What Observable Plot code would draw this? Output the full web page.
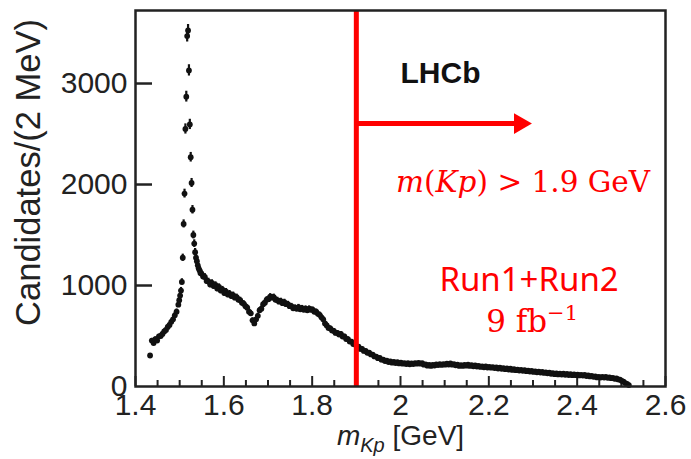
<!DOCTYPE html>
<html><head><meta charset="utf-8">
<script src="https://cdn.jsdelivr.net/npm/d3@7"></script>
<script src="https://cdn.jsdelivr.net/npm/@observablehq/plot@0.6"></script>
<style>body{margin:0;background:#fff}</style>
</head><body><div id="chart"></div>
<script>
// Low-mass side and Λ(1520) peak: bin centres (GeV) and candidates per 2 MeV
const lowMass = [1.433,1.437,1.441,1.445,1.449,1.453,1.457,1.461,1.465,1.469,1.473,1.477,1.481,1.485,1.489,1.493,1.497];
const lowCounts = [307,455,430,470,455,495,500,520,545,560,590,610,640,665,705,740,810];
const peakMass = [1.499,1.501,1.503,1.505,1.507,1.509,1.511,1.513,1.515,1.517,1.519,1.521,1.523,1.525,1.527,1.529,1.531,1.533,1.535,1.537,1.539,1.541,1.543,1.545,1.547];
const peakCounts = [855,900,950,1035,1275,1610,1910,2550,2870,3470,3525,3130,2595,2270,2015,1750,1500,1415,1330,1275,1240,1200,1170,1150,1125];
// Continuum: bins every 4 MeV starting at 1.549 GeV
const contStart = 1.549, contStep = 0.004;
const contCounts = [1120,1090,1085,1045,1040,1010,1025,995,1005,970,985,950,960,925,940,910,920,895,905,880,885,860,855,830,820,795,780,740,725,655,625,665,700,755,770,815,830,860,865,890,880,885,860,855,840,845,825,835,815,815,795,795,775,780,770,785,765,775,760,770,755,770,760,760,740,740,720,710,685,665,625,605,580,575,555,550,530,530,515,520,495,495,470,470,445,445,420,415,395,395,372,372,352,352,334,335,318,316,298,296,280,282,266,266,252,256,242,248,236,244,232,240,228,236,226,232,222,230,220,228,222,232,226,234,226,230,216,220,206,214,204,214,208,220,212,222,214,222,216,226,218,228,216,222,210,216,204,212,204,214,206,216,204,212,200,208,198,204,194,200,190,198,188,194,186,192,182,188,178,186,176,182,172,180,168,176,164,172,162,168,158,164,155,162,152,158,148,154,144,150,140,148,138,144,134,140,130,136,126,132,122,130,120,128,118,126,116,124,114,122,112,120,112,118,110,116,108,114,104,110,100,106,96,100,90,96,88,96,88,94,86,90,82,86,76,80,70,68,56,48,34,26,14];

const xTickLabels = [1.4,1.6,1.8,2,2.2,2.4,2.6];
const xMinorTicks = [1.45,1.5,1.55,1.65,1.7,1.75,1.85,1.9,1.95,2.05,2.1,2.15,2.25,2.3,2.35,2.45,2.5,2.55];
const yTickLabels = [0,1000,2000,3000];
const cutValue = 1.9;

const data = [];
lowMass.forEach((m,i)=>data.push({m, n: lowCounts[i]}));
peakMass.forEach((m,i)=>data.push({m, n: peakCounts[i]}));
contCounts.forEach((n,i)=>data.push({m: contStart + i*contStep, n}));

const red = "#ff0000";
const chart = Plot.plot({
  width: 691, height: 459,
  marginLeft: 135, marginRight: 26, marginTop: 10, marginBottom: 73,
  style: {fontFamily: "'Liberation Sans', Arial, sans-serif", background: "white", color: "#222"},
  x: {domain: [1.4, 2.6]},
  y: {domain: [0, 3723]},
  marks: [
    Plot.tickX(xMinorTicks, {x: d=>d, insetTop: 370, stroke: "#222", strokeWidth: 2}),
    Plot.tickX(xTickLabels, {x: d=>d, insetTop: 366, stroke: "#222", strokeWidth: 2}),
    Plot.tickY(yTickLabels.slice(1), {y: d=>d, insetRight: 513, stroke: "#222", strokeWidth: 2.5}),
    Plot.axisX({ticks: xTickLabels, tickSize: 0, tickPadding: 7, fontSize: 30, tickFormat: d=>String(d), label: null}),
    Plot.axisY({ticks: yTickLabels, tickSize: 0, tickPadding: 8, fontSize: 30, tickFormat: d=>String(d), label: null}),
    Plot.text(["Candidates/(2 MeV)"], {frameAnchor: "left", textAnchor: "middle", rotate: -90, dx: -107, dy: -26, fontSize: 34.5, fill: "#222"}),
    Plot.text(["mKp [GeV]"], {frameAnchor: "bottom", dy: 58, fontSize: 28, fill: "#222"}),
    Plot.ruleX(data, {x: "m", y1: d=>d.n - Math.sqrt(d.n), y2: d=>d.n + Math.sqrt(d.n), stroke: "#111", strokeWidth: 2.2}),
    Plot.dot(data, {x: "m", y: "n", r: 2.9, fill: "#111"}),
    Plot.ruleX([cutValue], {stroke: red, strokeWidth: 5}),
    Plot.link([{x1: cutValue, x2: 2.275, y: 2604}], {x1: "x1", x2: "x2", y1: "y", y2: "y", stroke: red, strokeWidth: 5}),
    Plot.dot([{x: 2.2705, y: 2604}], {x: "x", y: "y", symbol: "triangle", r: 7.7, rotate: 90, fill: red, stroke: null}),
    Plot.text(["LHCb"], {x: [2.0], y: [3100], textAnchor: "start", fontSize: 30, fontWeight: "bold", fill: "#111"}),
    Plot.text(["m(Kp) > 1.9 GeV"], {x: [1.99], y: [2020], textAnchor: "start", fontSize: 29.5, fill: red, fontFamily: "'DejaVu Serif', serif"}),
    Plot.text(["Run1+Run2"], {x: [2.291], y: [1050], fontSize: 33, fill: red, fontFamily: "'Noto Sans', sans-serif"}),
    Plot.text(["9 fb-1"], {x: [2.298], y: [634], fontSize: 31, fill: red, fontFamily: "'DejaVu Serif', serif"}),
    Plot.frame({stroke: "#222", strokeWidth: 2.5})
  ]
});
document.getElementById("chart").appendChild(chart);

// rich text (italics, sub/superscripts)
d3.select(chart).selectAll("text").each(function(){
  const t = this.textContent;
  if (t === "mKp [GeV]") {
    this.innerHTML = '<tspan font-style="italic">m</tspan><tspan font-style="italic" font-size="20" dy="7">Kp</tspan><tspan dy="-7"> [GeV]</tspan>';
  } else if (t === "m(Kp) > 1.9 GeV") {
    this.innerHTML = '<tspan font-style="italic">m</tspan>(<tspan font-style="italic">Kp</tspan>) &gt; 1.9 GeV';
  } else if (t === "9 fb-1") {
    this.innerHTML = '9 fb<tspan font-size="21" dy="-12">\u22121</tspan>';
  }
});
</script>
</body></html>
